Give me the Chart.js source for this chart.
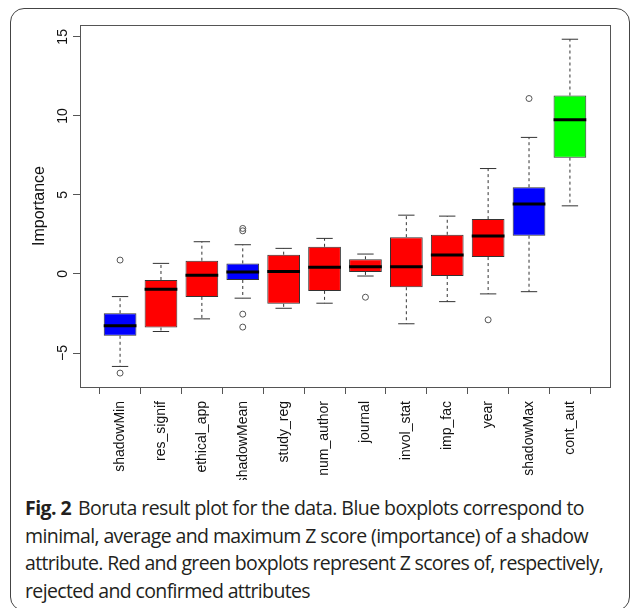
<!DOCTYPE html>
<html>
<head>
<meta charset="utf-8">
<script src="https://cdn.jsdelivr.net/npm/chart.js@4.4.0/dist/chart.umd.min.js"></script>
<style>
  body { margin: 0; background: #fff; width: 630px; height: 608px; overflow: hidden; position: relative; }
  #frame { position: absolute; left: 10px; top: 8px; width: 620px; height: 603px; border: 1.5px solid #444; border-radius: 14px; box-sizing: border-box; }
  #wrap { position: absolute; left: 0; top: 0; width: 630px; height: 480px; }
  #caption { position: absolute; left: 25px; top: 494px; font-family: 'Open Sans'; font-size: 19.5px; line-height: 27.6px; color: #231f20; white-space: nowrap; }
  #caption div span { display: inline-block; }
  #caption b { font-weight: 700; margin-right: 7px; }
</style>
</head>
<body>
<div id="frame"></div>
<div id="wrap"><canvas id="myChart" width="630" height="480"></canvas></div>
<div id="caption">
  <div><span data-w="559"><b>Fig. 2</b>Boruta result plot for the data. Blue boxplots correspond to</span></div>
  <div><span data-w="563">minimal, average and maximum Z score (importance) of a shadow</span></div>
  <div><span data-w="578">attribute. Red and green boxplots represent Z scores of, respectively,</span></div>
  <div><span data-w="285">rejected and confirmed attributes</span></div>
</div>
<script>
// attributes, ordered by median importance
var categories = ['shadowMin', 'res_signif', 'ethical_app', 'shadowMean', 'study_reg', 'num_author',
                  'journal', 'invol_stat', 'imp_fac', 'year', 'shadowMax', 'cont_aut']
var decision = ['shadow', 'rejected', 'rejected', 'shadow', 'rejected', 'rejected',
                'rejected', 'rejected', 'rejected', 'rejected', 'shadow', 'confirmed']
var whiskerLow = [-5.85, -3.64, -2.84, -1.53, -2.17, -1.85, -0.13, -3.15, -1.75, -1.26, -1.12, 4.31]
var q1 = [-3.91, -3.39, -1.45, -0.38, -1.89, -1.07, 0.13, -0.84, -0.13, 1.07, 2.42, 7.36]
var median = [-3.28, -0.97, -0.08, 0.13, 0.15, 0.42, 0.46, 0.46, 1.20, 2.40, 4.42, 9.76]
var q3 = [-2.48, -0.38, 0.84, 0.67, 1.22, 1.72, 0.93, 2.33, 2.48, 3.47, 5.49, 11.29]
var whiskerHigh = [-1.43, 0.67, 2.04, 1.85, 1.62, 2.25, 1.26, 3.72, 3.66, 6.67, 8.64, 14.85]
var outliers = [[0.88, -6.27], [], [], [2.88, 2.73, -2.54, -3.36], [], [],
                [-1.47], [], [], [-2.90], [11.10], []]
var yTicks = [-5, 0, 5, 10, 15]

var colorOf = { shadow: '#0000ff', rejected: '#ff0000', confirmed: '#00ff00' }

// squeeze each caption line to the width it has in the figure
document.querySelectorAll('#caption span[data-w]').forEach(function (el) {
    const natural = el.getBoundingClientRect().width
    const n = el.textContent.length
    el.style.letterSpacing = ((+el.dataset.w - natural) / n) + 'px'
})

const boxExtras = {
    id: 'boxExtras',
    afterDatasetsDraw(chart) {
        const ctx = chart.ctx
        const xs = chart.scales.x
        const ys = chart.scales.y
        const area = chart.chartArea
        const half = (xs.getPixelForValue(2) - xs.getPixelForValue(1)) * 0.4
        ctx.save()
        for (let i = 0; i < categories.length; i++) {
            const x = xs.getPixelForValue(i + 1)
            // dashed whiskers
            ctx.strokeStyle = '#333'
            ctx.lineWidth = 1
            ctx.setLineDash([3, 3])
            ctx.beginPath()
            ctx.moveTo(x, ys.getPixelForValue(q3[i]))
            ctx.lineTo(x, ys.getPixelForValue(whiskerHigh[i]))
            ctx.moveTo(x, ys.getPixelForValue(q1[i]))
            ctx.lineTo(x, ys.getPixelForValue(whiskerLow[i]))
            ctx.stroke()
            ctx.setLineDash([])
            // staples
            ctx.beginPath()
            ctx.moveTo(x - half / 2, ys.getPixelForValue(whiskerHigh[i]))
            ctx.lineTo(x + half / 2, ys.getPixelForValue(whiskerHigh[i]))
            ctx.moveTo(x - half / 2, ys.getPixelForValue(whiskerLow[i]))
            ctx.lineTo(x + half / 2, ys.getPixelForValue(whiskerLow[i]))
            ctx.stroke()
            // median
            ctx.strokeStyle = '#000'
            ctx.lineWidth = 3
            ctx.beginPath()
            ctx.moveTo(x - half, ys.getPixelForValue(median[i]))
            ctx.lineTo(x + half, ys.getPixelForValue(median[i]))
            ctx.stroke()
            // outliers
            ctx.strokeStyle = '#555'
            ctx.lineWidth = 1
            outliers[i].forEach(function (v) {
                ctx.beginPath()
                ctx.arc(x, ys.getPixelForValue(v), 3, 0, Math.PI * 2)
                ctx.stroke()
            })
        }
        // plot frame
        ctx.strokeStyle = '#555'
        ctx.lineWidth = 1
        ctx.strokeRect(area.left + 0.5, area.top + 0.5, area.right - area.left, area.bottom - area.top)
        // y tick labels, vertical like R
        ctx.fillStyle = '#111'
        ctx.font = '14px "Liberation Sans", Arial'
        ctx.textAlign = 'center'
        ctx.textBaseline = 'middle'
        yTicks.forEach(function (v) {
            ctx.save()
            ctx.translate(area.left - 17, ys.getPixelForValue(v))
            ctx.rotate(-Math.PI / 2)
            ctx.fillText(String(v).replace('-', '\u2212'), 0, 0)
            ctx.restore()
        })
        ctx.restore()
    }
}

const boxes = categories.map((c, i) => ({ x: i + 1, y: [q1[i], q3[i]] }))

const config = {
    type: 'bar',
    data: {
        datasets: [{
            data: boxes,
            backgroundColor: decision.map(d => colorOf[d]),
            borderColor: '#333',
            borderWidth: 1,
            borderSkipped: false,
            barPercentage: 0.8,
            categoryPercentage: 1
        }]
    },
    options: {
        responsive: false,
        animation: false,
        events: [],
        layout: { padding: { left: 0, top: 25, right: 20, bottom: 0 } },
        plugins: { legend: { display: false }, tooltip: { enabled: false } },
        scales: {
            x: {
                type: 'linear',
                offset: false,
                min: 0.02,
                max: 12.98,
                afterBuildTicks: s => { s.ticks = categories.map((c, i) => ({ value: i + 1 })) },
                afterFit: s => { s.height = 93 },
                grid: { drawOnChartArea: false, drawTicks: true, tickLength: 7, color: '#555' },
                border: { display: false },
                ticks: {
                    autoSkip: false,
                    minRotation: 90,
                    maxRotation: 90,
                    padding: 7,
                    color: '#111',
                    font: { family: 'Liberation Sans', size: 14 },
                    callback: v => categories[v - 1]
                }
            },
            y: {
                min: -7.15,
                max: 15.75,
                afterBuildTicks: s => { s.ticks = yTicks.map(v => ({ value: v })) },
                afterFit: s => { s.width = 80 },
                grid: { drawOnChartArea: false, drawTicks: true, tickLength: 7, color: '#555' },
                border: { display: false },
                ticks: { display: false },
                title: {
                    display: true,
                    text: 'Importance',
                    color: '#111',
                    font: { family: 'Liberation Sans', size: 16 },
                    padding: { top: 30, bottom: 0 }
                }
            }
        }
    },
    plugins: [boxExtras]
}

const myChart = new Chart(document.getElementById('myChart'), config)
</script>
</body>
</html>
